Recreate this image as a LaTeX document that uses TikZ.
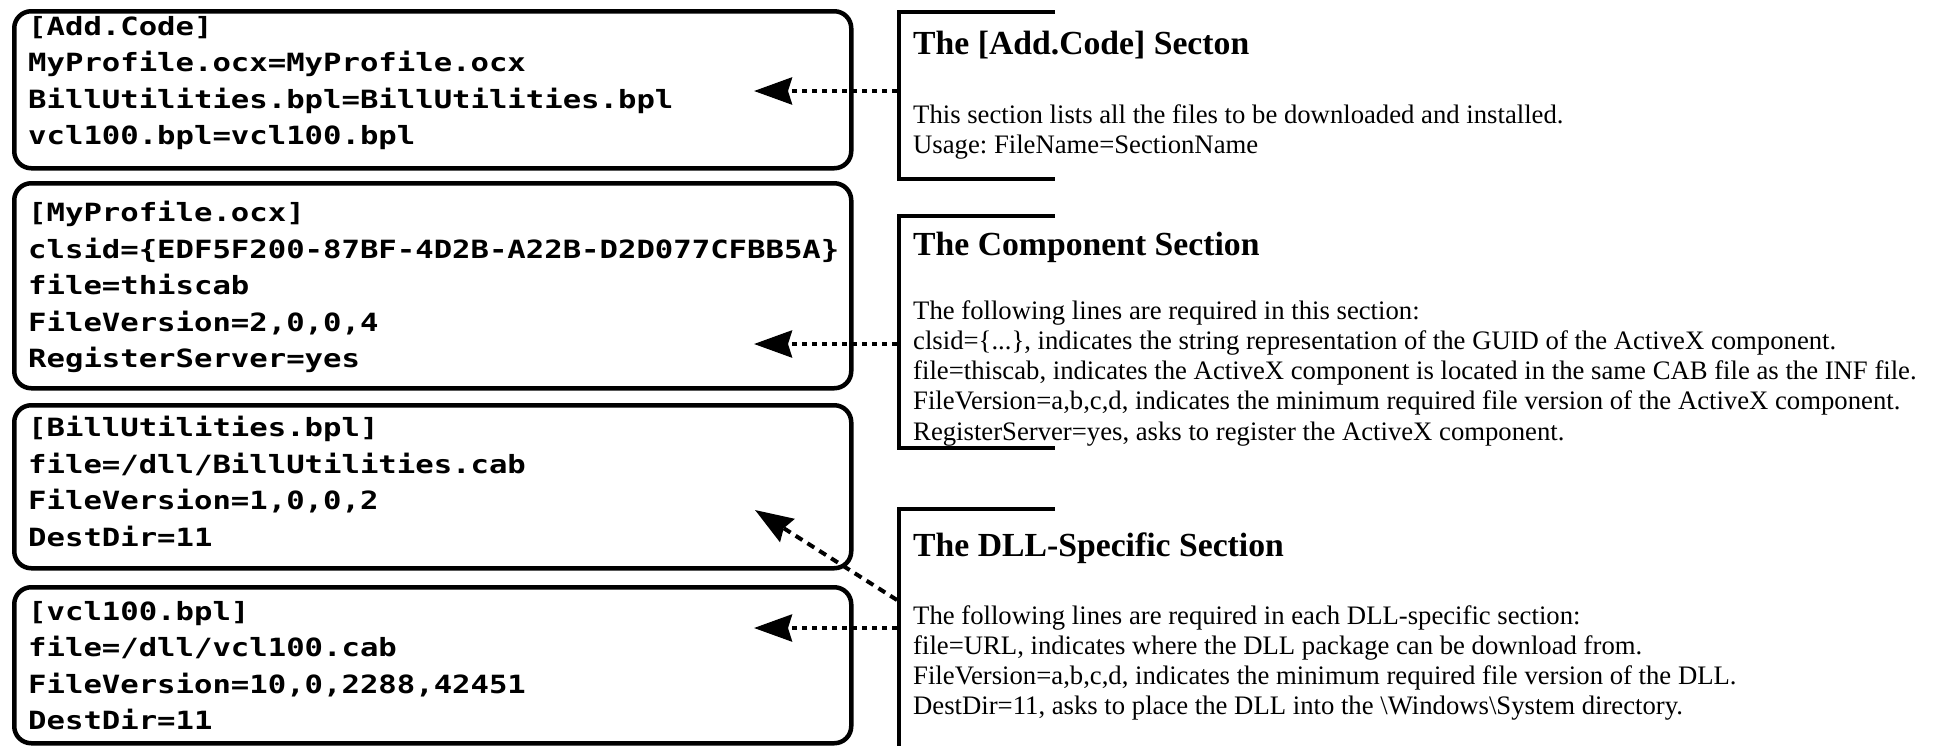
\documentclass[tikz,border=0pt]{standalone}
\usepackage{fontspec}
\setmainfont{Liberation Serif}
\newfontfamily\monof{DejaVu Sans Mono}[FakeStretch=1.22]
\usetikzlibrary{arrows.meta}
\frenchspacing
\begin{document}
\begin{tikzpicture}[x=1pt,y=1pt,
  codebox/.style={draw, line width=4.5pt, rounded corners=17pt, anchor=north west, inner sep=0pt, minimum width=837pt},
  codetext/.style={anchor=north west, inner sep=0pt, align=left, font=\monof\bfseries\fontsize{25.1}{36.5}\selectfont},
  title/.style={anchor=base west, inner sep=0pt, font=\bfseries\fontsize{33.7}{40}\selectfont},
  body/.style={anchor=north west, inner sep=0pt, align=left, font=\fontsize{26.7}{30.3}\selectfont},
  bracket/.style={line width=4pt},
  conn/.style={line width=4pt, dash pattern=on 5pt off 5pt, -{Stealth[length=38pt,width=27pt,inset=4pt]}},
  dconn/.style={conn, dash pattern=on 8pt off 6pt}
]
\useasboundingbox (0,0) rectangle (1939,-745);

% code boxes
\node[codebox, minimum height=157pt] (b1) at (12,-9) {};
\node[codebox, minimum height=205pt] (b2) at (12,-181) {};
\node[codebox, minimum height=163pt] (b3) at (12,-403) {};
\node[codebox, minimum height=156pt] (b4) at (12,-585) {};

\node[codetext] (c1) at (28,-16) {[Add.Code]\\MyProfile.ocx=MyProfile.ocx\\BillUtilities.bpl=BillUtilities.bpl\\vcl100.bpl=vcl100.bpl};
\node[codetext] (c2) at (28,-201) {[MyProfile.ocx]\\clsid=\{EDF5F200-87BF-4D2B-A22B-D2D077CFBB5A\}\\file=thiscab\\FileVersion=2,0,0,4\\RegisterServer=yes};
\node[codetext] (c3) at (28,-416) {[BillUtilities.bpl]\\file=/dll/BillUtilities.cab\\FileVersion=1,0,0,2\\DestDir=11};
\node[codetext] (c4) at (28,-601) {[vcl100.bpl]\\file=/dll/vcl100.cab\\FileVersion=10,0,2288,42451\\DestDir=11};

% brackets
\draw[bracket] (1055,-12) -- (899,-12) -- (899,-179) -- (1055,-179);
\draw[bracket] (1055,-216) -- (899,-216) -- (899,-448) -- (1055,-448);
\draw[bracket] (1055,-509) -- (899,-509) -- (899,-750);

% descriptions
\node[title] (h1) at (913,-54) {The [Add.Code] Secton};
\node[body] (d1) at (913,-104) {This section lists all the files to be downloaded and installed.\\Usage: FileName=SectionName};

\node[title] (h2) at (913,-255) {The Component Section};
\node[body] (d2) at (913,-300) {The following lines are required in this section:\\clsid=\{...\}, indicates the string representation of the GUID of the ActiveX component.\\file=thiscab, indicates the ActiveX component is located in the same CAB file as the INF file.\\FileVersion=a,b,c,d, indicates the minimum required file version of the ActiveX component.\\RegisterServer=yes, asks to register the ActiveX component.};

\node[title] (h3) at (913,-556) {The DLL-Specific Section};
\node[body] (d3) at (913,-605) {The following lines are required in each DLL-specific section:\\file=URL, indicates where the DLL package can be download from.\\FileVersion=a,b,c,d, indicates the minimum required file version of the DLL.\\DestDir=11, asks to place the DLL into the \textbackslash Windows\textbackslash System directory.};

% connectors
\coordinate (s1) at (897,-91);
\coordinate (t1) at (754,-91);
\coordinate (s2) at (897,-344);
\coordinate (t2) at (754,-344);
\coordinate (s3) at (897,-600);
\coordinate (t3) at (755,-510);
\coordinate (s4) at (897,-628);
\coordinate (t4) at (754,-628);
\draw[conn] (s1) -- (t1);
\draw[conn] (s2) -- (t2);
\draw[dconn] (s3) -- (t3);
\draw[conn] (s4) -- (t4);
\end{tikzpicture}
\end{document}
